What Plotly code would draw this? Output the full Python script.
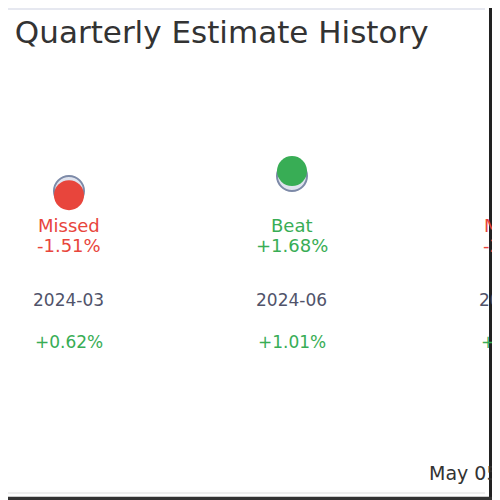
import plotly.graph_objects as go

# ---- data ----
quarters = ["2024-03", "2024-06", "2024-09"]
estimate = [2.45, 2.58, 2.66]
actual = [2.413, 2.623, 2.603]
surprise_label = ["Missed", "Beat", "Missed"]
surprise_pct = ["-1.51%", "+1.68%", "-2.15%"]
price_move = ["+0.62%", "+1.01%", "+0.48%"]
title_text = "Revenue Quarterly Estimate History"
date_text = "May 05, 2025"

RED = "#e8453c"
GREEN = "#38ad55"
RING = "#7d8aa8"
DATEC = "#50536a"
FONT = "DejaVu Sans, Liberation Sans, Arial, sans-serif"

W, H = 484, 492  # page body margin (8px) takes the rest of the 500px window

xpos = list(range(len(quarters)))
act_colors = [RED if a < e else GREEN for a, e in zip(actual, estimate)]
X_RANGE = [-0.2735, 1.8969]
Y_RANGE = [-0.237, 4.041]

fig = go.Figure()
fig.add_trace(go.Scatter(
    x=xpos, y=estimate, mode="markers", cliponaxis=False,
    marker=dict(size=30, color="#dfe3ee", line=dict(color=RING, width=2)),
    showlegend=False, hoverinfo="skip"))
fig.add_trace(go.Scatter(
    x=xpos, y=actual, mode="markers", cliponaxis=False,
    marker=dict(size=30, color=act_colors, line=dict(width=0)),
    showlegend=False, hoverinfo="skip"))


def col_text(i, text, y, size, color):
    # text centred on the category position (tail), invisible arrow head kept inside range
    fig.add_annotation(
        text=text, xref="x", yref="paper",
        x=xpos[i] - 0.2, y=y, axref="x", ax=xpos[i], ay=0,
        showarrow=True, arrowcolor="rgba(0,0,0,0)", arrowwidth=0.1,
        xanchor="center", yanchor="middle",
        font=dict(family=FONT, size=size, color=color))


for i, q in enumerate(quarters):
    col = act_colors[i]
    col_text(i, surprise_label[i], 0.557, 18, col)
    col_text(i, surprise_pct[i], 0.518, 18, col)
    col_text(i, q, 0.4065, 17, DATEC)
    mv_col = GREEN if price_move[i].startswith("+") else RED
    col_text(i, price_move[i], 0.321, 17, mv_col)

fig.add_annotation(text=title_text, x=0.874, xref="paper", xanchor="right",
                   y=0.951, yref="paper", yanchor="middle", showarrow=False,
                   font=dict(family=FONT, size=31, color="#333333"))
fig.add_annotation(text=date_text, x=0.8657, xref="paper", xanchor="left",
                   y=0.0549, yref="paper", yanchor="middle", showarrow=False,
                   font=dict(family=FONT, size=19, color="#333333"))

# frame lines
fig.add_shape(type="line", xref="paper", yref="paper", x0=0, x1=0.9855, y0=0.998, y1=0.998,
              line=dict(color="#e6e8f0", width=2), layer="above")
fig.add_shape(type="line", xref="paper", yref="paper", x0=0, x1=0.9855, y0=0.0142, y1=0.0142,
              line=dict(color="#eeeeee", width=2), layer="above")
fig.add_shape(type="rect", xref="paper", yref="paper", x0=0.9938, x1=1.0, y0=0, y1=1,
              fillcolor="#222222", line=dict(width=0), layer="above")
fig.add_shape(type="rect", xref="paper", yref="paper", x0=0, x1=1, y0=0, y1=0.0065,
              fillcolor="#333333", line=dict(width=0), layer="above")

fig.update_layout(
    width=W, height=H, margin=dict(l=0, r=0, t=0, b=0),
    paper_bgcolor="white", plot_bgcolor="white",
    xaxis=dict(range=X_RANGE, visible=False, fixedrange=True),
    yaxis=dict(range=Y_RANGE, visible=False, fixedrange=True),
    showlegend=False,
)
fig.write_html("out.html")
